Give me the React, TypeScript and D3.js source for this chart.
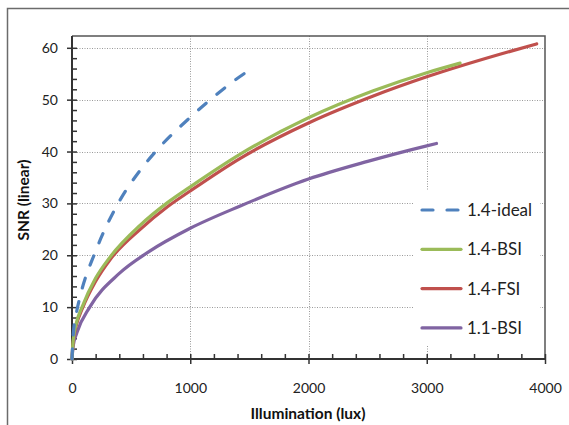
import React, { useEffect, useRef } from "react";
import * as d3 from "d3";

// values
const idealLux = [0, 10, 40, 70, 200, 400, 577, 715, 1000, 1170, 1350, 1520];
const idealSnr = [0, 4.6, 9.2, 12.2, 20.8, 30.4, 36.4, 40.2, 46.6, 50, 53.3, 56];

const bsi14Lux = [0, 10, 40, 85, 200, 320, 577, 810, 1000, 1423, 2000, 2548, 3000, 3282];
const bsi14Snr = [0, 3.6, 7.2, 10, 15.6, 19.6, 25.8, 30.2, 33.2, 39.5, 46.5, 51.7, 55.2, 57.05];

const fsi14Lux = [0, 10, 40, 85, 200, 320, 577, 810, 1000, 1423, 2000, 2548, 3000, 3626, 3930];
const fsi14Snr = [0, 3.3, 6.8, 9.6, 15, 19.1, 25, 29.4, 32.4, 38.7, 45.5, 50.7, 54.4, 58.8, 60.75];

const bsi11Lux = [0, 10, 42, 150, 400, 644, 1000, 1423, 2000, 2500, 3000, 3082];
const bsi11Snr = [0, 2.5, 5.1, 10, 16.5, 20.6, 25.2, 29.5, 34.7, 38.1, 41.1, 41.55];

const seriesNames = ["1.4-ideal", "1.4-BSI", "1.4-FSI", "1.1-BSI"];
const seriesColors = ["#4F81BD", "#9BBB59", "#C0504D", "#8064A2"];
const xTicks = [0, 1000, 2000, 3000, 4000];
const yTicks = [0, 10, 20, 30, 40, 50, 60];

const FONT = "Lato, 'Liberation Sans', sans-serif";

export default function App() {
  const ref = useRef<SVGSVGElement>(null);

  useEffect(() => {
    const svg = d3.select(ref.current);
    svg.selectAll("*").remove();

    const left = 72, right = 545, top = 36, bottom = 359;
    const x = d3.scaleLinear().domain([0, 4000]).range([left, right]);
    const y = d3.scaleLinear().domain([0, 60]).range([bottom, 47.8]);

    // outer chart frame (only left and top edges visible)
    svg.append("path")
      .attr("d", "M7.5,425 L7.5,8.5 L569,8.5")
      .attr("fill", "none")
      .attr("stroke", "#6b6b6b")
      .attr("stroke-width", 1.5);

    // gridlines
    const grid = svg.append("g").attr("stroke", "#9a9a9a").attr("stroke-dasharray", "1,1.5");
    yTicks.slice(1).forEach(v => {
      grid.append("line").attr("x1", left).attr("x2", right)
        .attr("y1", Math.round(y(v)) + 0.5).attr("y2", Math.round(y(v)) + 0.5);
    });
    xTicks.slice(1, -1).forEach(v => {
      grid.append("line").attr("y1", top).attr("y2", bottom)
        .attr("x1", Math.round(x(v)) + 0.5).attr("x2", Math.round(x(v)) + 0.5);
    });

    // plot frame top/right
    svg.append("path")
      .attr("d", `M${left},${top} L${right},${top} L${right},${bottom}`)
      .attr("fill", "none")
      .attr("stroke", "#555")
      .attr("stroke-width", 1.5);

    // legend background
    svg.append("rect")
      .attr("x", 413).attr("y", 190).attr("width", 127).attr("height", 156)
      .attr("fill", "#fff");

    const minorX = d3.range(0, 4001, 200);
    const minorY = d3.range(0, 61, 2);

    // y axis: outside majors with labels, inside minors
    const yAxis = svg.append("g").attr("transform", `translate(${left},0)`)
      .call(d3.axisLeft(y).tickValues(yTicks).tickSize(5).tickPadding(9));
    const yIn = svg.append("g").attr("transform", `translate(${left},0)`)
      .call(d3.axisRight(y).tickValues(minorY).tickSize(5).tickFormat(() => ""));
    // x axis
    const xAxis = svg.append("g").attr("transform", `translate(0,${bottom})`)
      .call(d3.axisBottom(x).tickValues(xTicks).tickSize(5).tickPadding(19).tickFormat(d3.format("d")));
    const xIn = svg.append("g").attr("transform", `translate(0,${bottom})`)
      .call(d3.axisTop(x).tickValues(minorX).tickSize(5).tickFormat(() => ""));

    [yAxis, yIn, xAxis, xIn].forEach(g => {
      g.selectAll("line").attr("stroke", "#333").attr("stroke-width", 1.5);
      g.select(".domain").remove();
      g.selectAll("text")
        .attr("font-family", FONT)
        .attr("font-size", 14)
        .attr("fill", "#222");
    });

    svg.append("line").attr("x1", left).attr("x2", left).attr("y1", top).attr("y2", bottom)
      .attr("stroke", "#333").attr("stroke-width", 2);
    svg.append("line").attr("x1", left).attr("x2", right).attr("y1", bottom).attr("y2", bottom)
      .attr("stroke", "#333").attr("stroke-width", 2);

    // series
    const allLux = [idealLux, bsi14Lux, fsi14Lux, bsi11Lux];
    const allSnr = [idealSnr, bsi14Snr, fsi14Snr, bsi11Snr];
    const line = d3.line<[number, number]>()
      .x(d => x(d[0]))
      .y(d => y(d[1]))
      .curve(d3.curveMonotoneX);

    [3, 2, 1, 0].forEach(i => {
      const pts = allLux[i].map((l, j) => [l, allSnr[i][j]] as [number, number]);
      svg.append("path")
        .datum(pts)
        .attr("d", line)
        .attr("fill", "none")
        .attr("stroke", seriesColors[i])
        .attr("stroke-width", 3.2)
        .attr("stroke-linecap", "round")
        .attr("stroke-dasharray", i === 0 ? "10,14" : null);
    });

    // legend
    seriesNames.forEach((name, i) => {
      const ly = 210 + i * 39.3;
      svg.append("line")
        .attr("x1", 422).attr("x2", 461).attr("y1", ly).attr("y2", ly)
        .attr("stroke", seriesColors[i])
        .attr("stroke-width", 3.2)
        .attr("stroke-linecap", "round")
        .attr("stroke-dasharray", i === 0 ? "11,14" : null);
      svg.append("text")
        .attr("x", 467).attr("y", ly)
        .attr("dy", "0.36em")
        .attr("font-family", FONT)
        .attr("font-size", 17)
        .attr("fill", "#222")
        .text(name);
    });

    // axis titles
    svg.append("text")
      .attr("x", 308).attr("y", 419)
      .attr("text-anchor", "middle")
      .attr("font-family", FONT)
      .attr("font-weight", "bold")
      .attr("font-size", 15.5)
      .attr("fill", "#111")
      .text("Illumination (lux)");
    svg.append("text")
      .attr("transform", "translate(29,200) rotate(-90)")
      .attr("text-anchor", "middle")
      .attr("font-family", FONT)
      .attr("font-weight", "bold")
      .attr("font-size", 15.5)
      .attr("fill", "#111")
      .text("SNR (linear)");
  }, []);

  return (
    <div style={{ position: "absolute", left: 0, top: 0 }}>
      <svg ref={ref} width={569} height={425} style={{ display: "block", background: "#fff" }} />
    </div>
  );
}
